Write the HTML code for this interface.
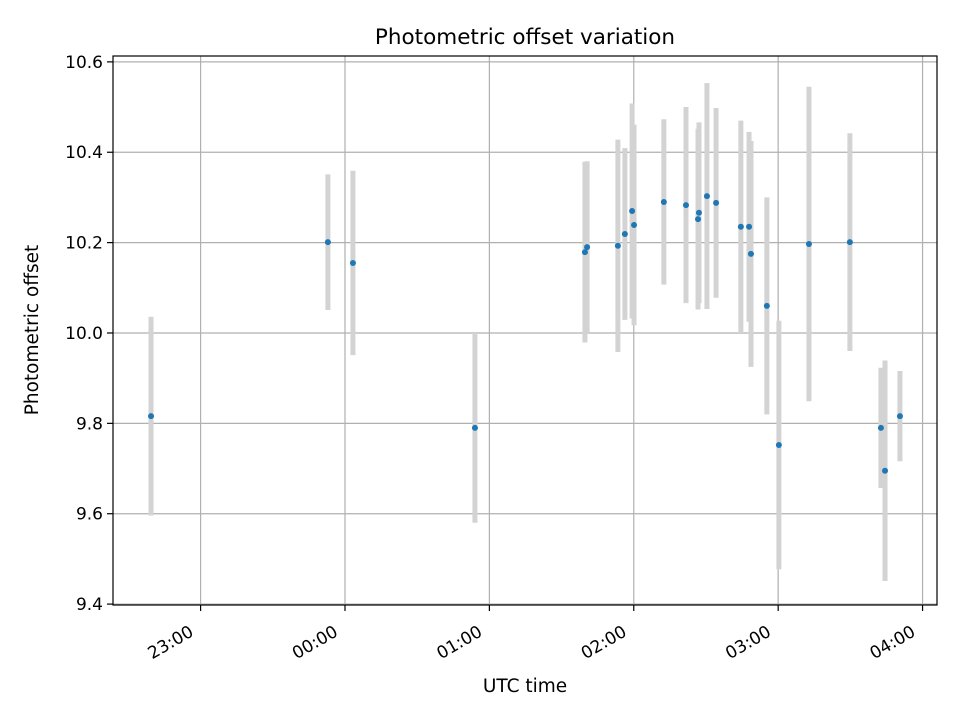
<!DOCTYPE html>
<html><head><meta charset="utf-8"><style>
body{margin:0;background:#fff;}
svg{display:block;font-family:"DejaVu Sans","Liberation Sans",sans-serif;}
</style></head><body>
<svg id="chart" width="960" height="720" viewBox="0 0 960 720">
<rect x="0" y="0" width="960" height="720" fill="#fff"/>
<g id="grid"></g><g id="bars"></g><g id="pts"></g><g id="axes"></g>
<text x="525" y="44" text-anchor="middle" font-size="21.5" fill="#000">Photometric offset variation</text>
<text x="525" y="692" text-anchor="middle" font-size="18.5" fill="#000">UTC time</text>
<text transform="translate(38,330) rotate(-90)" text-anchor="middle" font-size="18.5" fill="#000">Photometric offset</text>
</svg>
<script>
// times in minutes relative to 00:00 UTC
const times=[-80.6,-7.1,3.3,54,99.7,100.6,113.4,116.3,119.3,120.1,132.5,141.7,146.7,147.1,150.4,154.2,164.5,167.9,168.7,175.3,180.3,192.8,209.8,222.7,224.4,230.6];
const offsets=[9.816,10.201,10.155,9.79,10.179,10.19,10.193,10.219,10.27,10.239,10.29,10.283,10.252,10.266,10.303,10.288,10.235,10.235,10.175,10.06,9.752,10.197,10.201,9.79,9.695,9.816];
const errors=[0.22,0.15,0.204,0.21,0.2,0.19,0.235,0.19,0.238,0.222,0.183,0.217,0.2,0.2,0.25,0.21,0.235,0.21,0.25,0.24,0.275,0.348,0.241,0.133,0.244,0.1];
const xTicks=[-60,0,60,120,180,240];
const xTickLabels=["23:00","00:00","01:00","02:00","03:00","04:00"];
const yTicks=[9.4,9.6,9.8,10.0,10.2,10.4,10.6];
const yTickLabels=["9.4","9.6","9.8","10.0","10.2","10.4","10.6"];

const L=113,R=937,T=56,B=605;
const xMin=-96.4,xMax=246.0,yMin=9.398,yMax=10.613;
const X=t=>L+(t-xMin)/(xMax-xMin)*(R-L);
const Y=v=>B-(v-yMin)/(yMax-yMin)*(B-T);
const NS="http://www.w3.org/2000/svg";
function mk(tag,attrs,parent){const e=document.createElementNS(NS,tag);for(const k in attrs)e.setAttribute(k,attrs[k]);document.getElementById(parent).appendChild(e);return e;}

xTicks.forEach((t,i)=>{
  const x=X(t);
  const g=mk('line',{x1:x,x2:x,y1:T,y2:B,stroke:'#b0b0b0','stroke-width':1.2},'grid');
  
  
  const tk=mk('line',{x1:x,x2:x,y1:B,y2:B+6,stroke:'#000','stroke-width':1.2},'axes');
  
  
  const tx=mk('text',{transform:`translate(${x-6},${B+30}) rotate(-30)`,'text-anchor':'end','font-size':17,fill:'#000'},'axes');
  tx.textContent=xTickLabels[i];
  
  
});
yTicks.forEach((v,i)=>{
  const y=Y(v);
  const g=mk('line',{x1:L,x2:R,y1:y,y2:y,stroke:'#b0b0b0','stroke-width':1.2},'grid');
  
  
  const tk=mk('line',{x1:L-6,x2:L,y1:y,y2:y,stroke:'#000','stroke-width':1.2},'axes');
  
  
  const tx=mk('text',{x:L-10,y:y+6,'text-anchor':'end','font-size':17,fill:'#000'},'axes');
  tx.textContent=yTickLabels[i];
  
  
});
const frame=mk('rect',{x:L,y:T,width:R-L,height:B-T,fill:'none',stroke:'#000','stroke-width':1.2},'axes');



times.forEach((t,i)=>{
  const x=X(t);
  const b=mk('line',{x1:x,x2:x,y1:Y(offsets[i]+errors[i]),y2:Y(offsets[i]-errors[i]),stroke:'#d3d3d3','stroke-width':5},'bars');
  
  
});
times.forEach((t,i)=>{
  const c=mk('circle',{cx:X(t),cy:Y(offsets[i]),r:3,fill:'#1f77b4'},'pts');
  
  
});
</script>
</body></html>
